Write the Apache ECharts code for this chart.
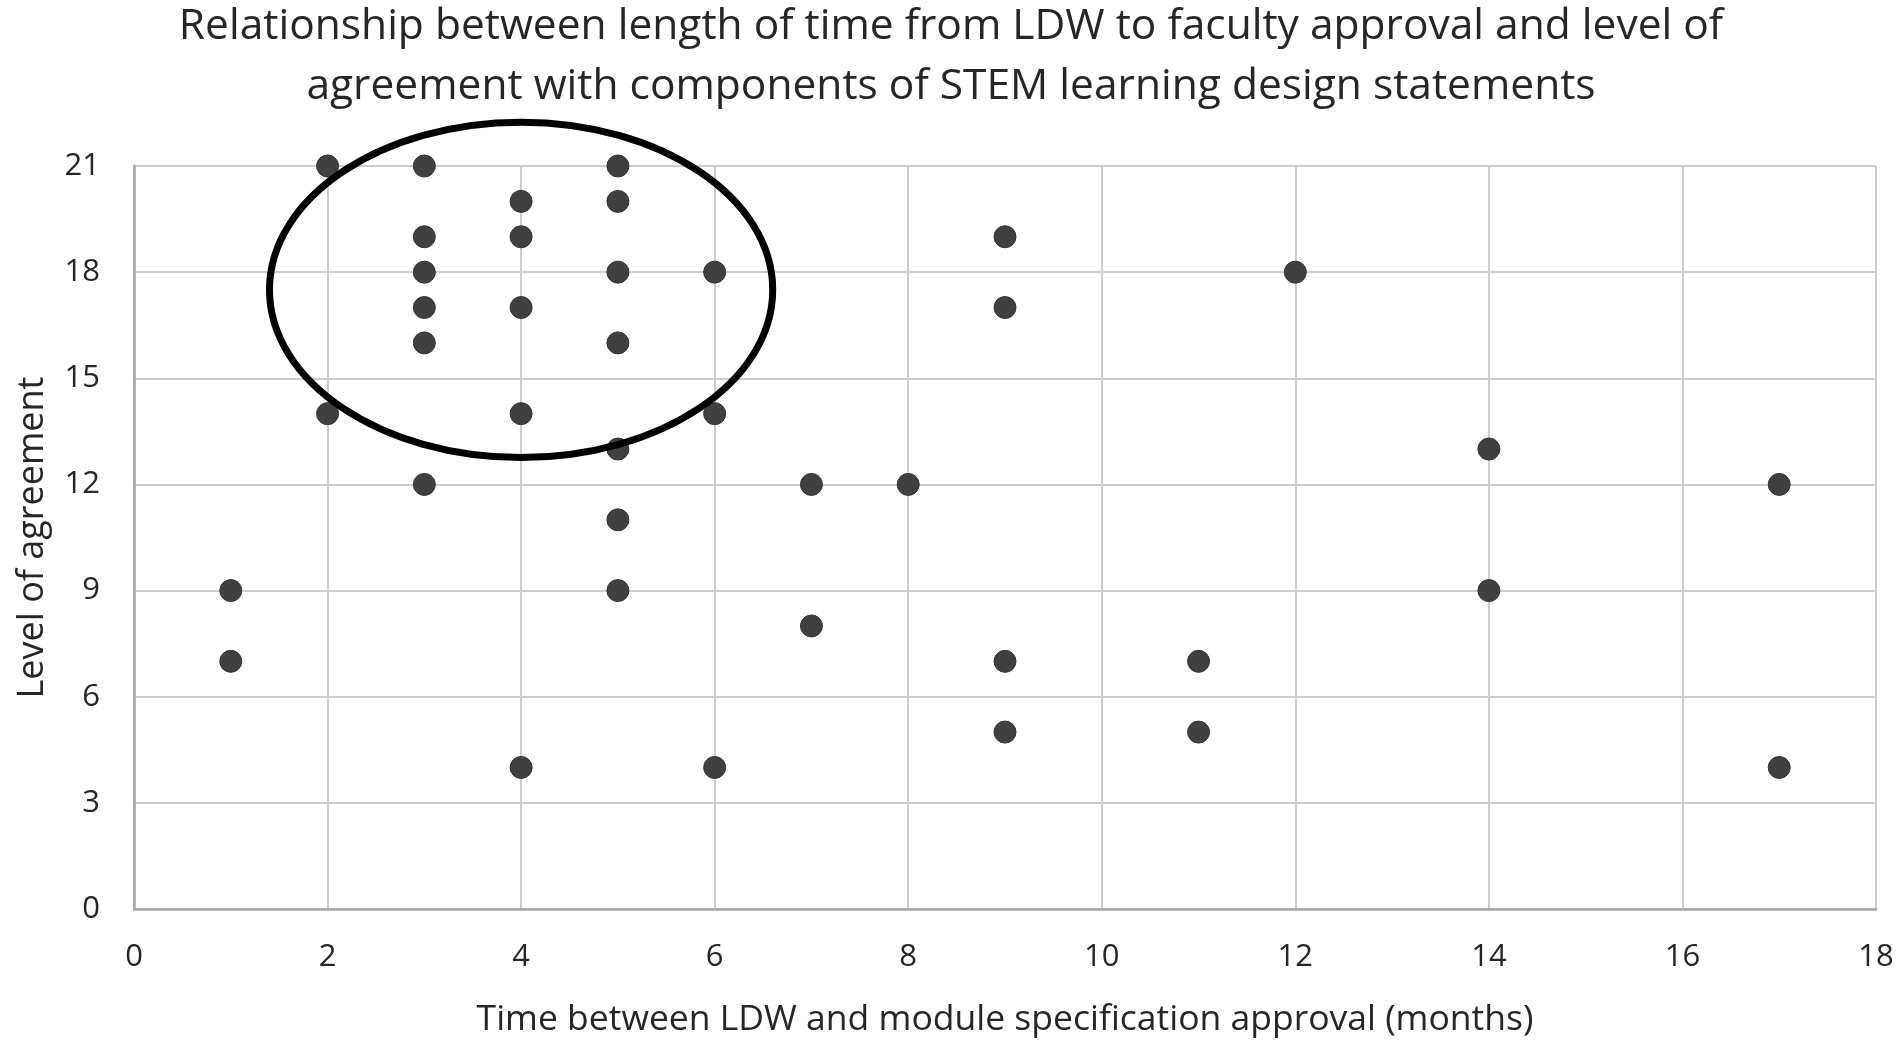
<!DOCTYPE html>
<html>
<head>
<meta charset="utf-8">
<script src="https://cdn.jsdelivr.net/npm/echarts@6/dist/echarts.min.js"></script>
<style>
  html, body { margin: 0; padding: 0; background: #fff; }
  #chart { width: 1902px; height: 1045px; }
</style>
</head>
<body>
<div id="chart"></div>
<script>
// months between LDW and approval, one entry per module
const months = [1, 1, 2, 2, 3, 3, 3, 3, 3, 3, 4, 4, 4, 4, 4,
  5, 5, 5, 5, 5, 5, 5, 6, 6, 6, 7, 7, 8, 9, 9, 9, 9, 11, 11, 12, 14, 14, 17, 17];
// level of agreement, same order as months
const agreement = [9, 7, 21, 14, 21, 19, 18, 17, 16, 12, 20, 19, 17, 14, 4,
  21, 20, 18, 16, 13, 11, 9, 18, 14, 4, 12, 8, 12, 19, 17, 7, 5, 7, 5, 18, 13, 9, 12, 4];
// highlighted cluster: centre x, centre y, radius x, radius y (data units)
const cluster = [4, 17.5, 2.6, 4.74];

const titleText = 'Relationship between length of time from LDW to faculty approval and level of\nagreement with components of STEM learning design statements';
const xName = 'Time between LDW and module specification approval (months)';
const yName = 'Level of agreement';

const points = months.map((m, i) => [m, agreement[i]]);

const chart = echarts.init(document.getElementById('chart'));
const font = 'Open Sans';

const option = {
  backgroundColor: '#fff',
  animation: false,
  title: {
    text: titleText,
    left: 'center',
    top: -8,
    textStyle: {
      fontFamily: font,
      fontSize: 42.5,
      fontWeight: 'normal',
      color: '#262626',
      lineHeight: 60
    }
  },
  grid: {
    left: 134,
    right: 26,
    top: 166,
    bottom: 136
  },
  xAxis: {
    type: 'value',
    min: 0,
    max: 18,
    interval: 2,
    name: xName,
    nameLocation: 'middle',
    nameGap: 93,
    nameTextStyle: { fontFamily: font, fontSize: 35.5, color: '#262626' },
    axisLine: { lineStyle: { color: '#a6a6a6', width: 2.5 } },
    axisTick: { show: false },
    axisLabel: { fontFamily: font, fontSize: 31, color: '#262626', margin: 33 },
    splitLine: { show: true, lineStyle: { color: '#cccccc', width: 2 } }
  },
  yAxis: {
    type: 'value',
    min: 0,
    max: 21,
    interval: 3,
    name: yName,
    nameLocation: 'middle',
    nameGap: 83,
    nameTextStyle: { fontFamily: font, fontSize: 36, color: '#262626' },
    axisLine: { show: true, lineStyle: { color: '#a6a6a6', width: 2.5 } },
    axisTick: { show: false },
    axisLabel: { fontFamily: font, fontSize: 31, color: '#262626', margin: 34 },
    splitLine: { show: true, lineStyle: { color: '#cccccc', width: 2 } }
  },
  series: [{
    type: 'scatter',
    data: points,
    symbolSize: 22,
    itemStyle: { color: '#404040', borderColor: '#333', borderWidth: 1, opacity: 1 }
  }]
};

chart.setOption(option);

// ellipse around the cluster, placed through the axes' own scales
const c = chart.convertToPixel({ gridIndex: 0 }, [cluster[0], cluster[1]]);
const e = chart.convertToPixel({ gridIndex: 0 }, [cluster[0] + cluster[2], cluster[1] + cluster[3]]);
chart.setOption({
  graphic: [{
    type: 'ellipse',
    z: 100,
    shape: { cx: c[0], cy: c[1], rx: Math.abs(e[0] - c[0]), ry: Math.abs(e[1] - c[1]) },
    style: { fill: 'none', stroke: '#000', lineWidth: 7 }
  }]
});
</script>
</body>
</html>
